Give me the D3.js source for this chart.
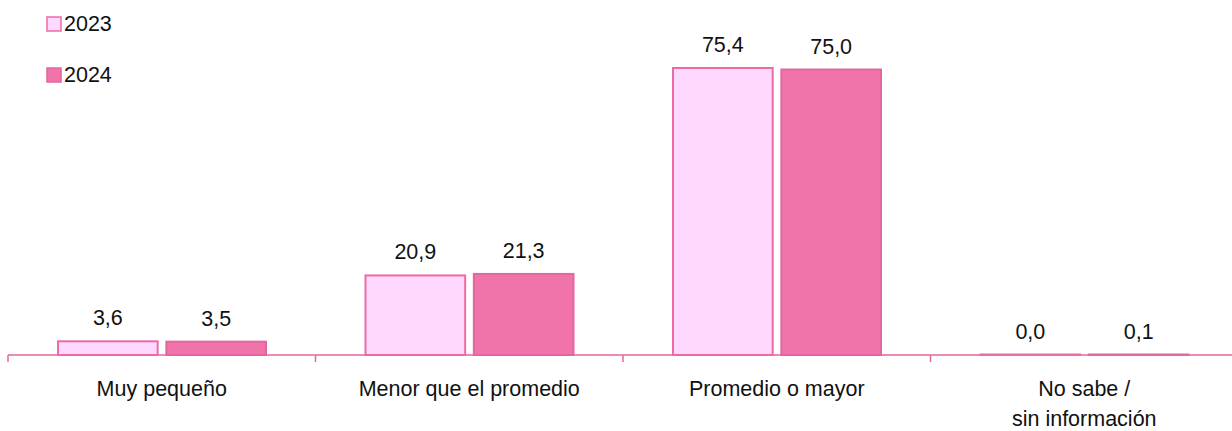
<!DOCTYPE html>
<html>
<head>
<meta charset="utf-8">
<script src="https://cdn.jsdelivr.net/npm/d3@7"></script>
<style>
  body { margin: 0; background: #fff; }
  text { font-family: "Liberation Sans", Arial, sans-serif; fill: #111; }
</style>
</head>
<body>
<div id="chart"></div>
<script>
'use strict'

const categories = ['Muy pequeño', 'Menor que el promedio', 'Promedio o mayor', 'No sabe /\nsin información']
const years = ['2023', '2024']
const values2023 = [3.6, 20.9, 75.4, 0.0]
const values2024 = [3.5, 21.3, 75.0, 0.1]

const svgWidth = 1232
const svgHeight = 431
const fontSize = '21.5px'

const fills = { '2023': '#FFD8FF', '2024': '#F074AA' }
const strokes = { '2023': '#EC6BA3', '2024': '#E4669E' }

const svg = d3.select('#chart').append('svg')
    .attr('width', svgWidth)
    .attr('height', svgHeight)

// scales
const x = d3.scaleBand()
    .domain(categories)
    .range([8, 1238])
    .paddingInner(0)
    .paddingOuter(0)

const xInner = d3.scaleBand()
    .domain(years)
    .range([50, 258])
    .paddingInner(0.08)

const y = d3.scaleLinear()
    .domain([0, 75.4])
    .range([355, 68])

const series = { '2023': values2023, '2024': values2024 }

// axis line and ticks
const axisColor = '#E8649C'
svg.append('line')
    .attr('x1', 8).attr('x2', svgWidth)
    .attr('y1', y(0)).attr('y2', y(0))
    .attr('stroke', axisColor).attr('stroke-width', 1.5)

svg.append('g').selectAll('line')
    .data(categories)
    .join('line')
    .attr('x1', d => x(d)).attr('x2', d => x(d))
    .attr('y1', y(0)).attr('y2', y(0) + 7)
    .attr('stroke', axisColor).attr('stroke-width', 1.5)

// bars + value labels
years.forEach(yr => {
    svg.append('g').selectAll('rect')
        .data(categories)
        .join('rect')
        .attr('x', d => x(d) + xInner(yr))
        .attr('y', (d, i) => Math.min(y(series[yr][i]), y(0) - 0.5))
        .attr('width', xInner.bandwidth())
        .attr('height', (d, i) => Math.max(y(0) - y(series[yr][i]), 0.5))
        .attr('fill', fills[yr])
        .attr('stroke', strokes[yr])
        .attr('stroke-width', 2)

    svg.append('g').selectAll('text')
        .data(categories)
        .join('text')
        .attr('x', d => x(d) + xInner(yr) + xInner.bandwidth() / 2)
        .attr('y', (d, i) => y(series[yr][i]) - 16)
        .attr('text-anchor', 'middle')
        .style('font-size', fontSize)
        .text((d, i) => d3.format('.1f')(series[yr][i]).replace('.', ','))
})

// category labels
svg.append('g').selectAll('text')
    .data(categories)
    .join('text')
    .attr('text-anchor', 'middle')
    .style('font-size', fontSize)
    .each(function (d) {
        const lines = d.split('\n')
        d3.select(this).selectAll('tspan')
            .data(lines)
            .join('tspan')
            .attr('x', x(d) + x.bandwidth() / 2)
            .attr('y', (l, i) => 396 + i * 30)
            .text(l => l)
    })

// legend
const legend = svg.append('g')
years.forEach((yr, i) => {
    const ly = 17 + i * 51
    legend.append('rect')
        .attr('x', 47).attr('y', ly)
        .attr('width', 14).attr('height', 14)
        .attr('fill', fills[yr])
        .attr('stroke', strokes[yr])
        .attr('stroke-width', 1.5)
    legend.append('text')
        .attr('x', 64).attr('y', ly + 14)
        .style('font-size', fontSize)
        .text(yr)
})
</script>
</body>
</html>
